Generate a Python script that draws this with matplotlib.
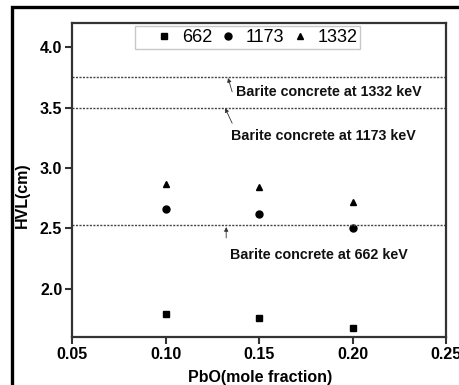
import matplotlib
matplotlib.use('Agg')
import matplotlib.pyplot as plt
from matplotlib.patches import Rectangle

# PbO mole fraction and half value layer (cm) per photon energy
pbo = [0.10, 0.15, 0.20]
hvl_662 = [1.79, 1.76, 1.67]
hvl_1173 = [2.66, 2.62, 2.50]
hvl_1332 = [2.87, 2.84, 2.72]

# Barite concrete reference HVLs
barite_energies = ['662', '1173', '1332']
barite_hvl = [2.53, 3.50, 3.75]

plt.rcParams['font.family'] = ['Liberation Sans', 'DejaVu Sans']

fig = plt.figure(figsize=(4.59, 3.85), dpi=100)
ax = fig.add_axes([0.157, 0.125, 0.815, 0.815])

ax.plot(pbo, hvl_662, 's', color='black', markersize=4.5, label='662')
ax.plot(pbo, hvl_1173, 'o', color='black', markersize=5, label='1173')
ax.plot(pbo, hvl_1332, '^', color='black', markersize=5, label='1332')

for val in barite_hvl:
    ax.axhline(val, color='#444444', lw=1.0, ls=(0, (1.5, 1)))

# labels and small arrows pointing to the reference lines
text_pos = {'1332': (0.1377, 3.63), '1173': (0.135, 3.265), '662': (0.1345, 2.28)}
arrow_head = {'1332': (0.1334, 3.745), '1173': (0.1318, 3.496), '662': (0.1324, 2.51)}
arrow_tail = {'1332': (0.1356, 3.63), '1173': (0.1356, 3.37), '662': (0.1324, 2.42)}
for e in barite_energies:
    tx, ty = text_pos[e]
    ax.text(tx, ty, f'Barite concrete at {e} keV', fontsize=10.3,
            fontweight='bold', va='center', ha='left', color='#111111')
    ax.annotate('', xy=arrow_head[e], xytext=arrow_tail[e],
                arrowprops=dict(arrowstyle='-|>', lw=0.6, color='#333333',
                                mutation_scale=6, shrinkA=0, shrinkB=0))

ax.set_xlim(0.05, 0.25)
ax.set_ylim(1.6, 4.2)
ax.set_xticks([0.05, 0.10, 0.15, 0.20, 0.25])
ax.set_xticklabels(['0.05', '0.10', '0.15', '0.20', '0.25'])
ax.set_yticks([2.0, 2.5, 3.0, 3.5, 4.0])
ax.set_yticklabels(['2.0', '2.5', '3.0', '3.5', '4.0'])
ax.tick_params(direction='out', length=5, width=1.5, color='#333333',
               labelsize=11.5, pad=2)
for lab in ax.get_xticklabels() + ax.get_yticklabels():
    lab.set_fontweight('bold')
for sp in ax.spines.values():
    sp.set_linewidth(1.6)
    sp.set_color('#333333')

ax.set_xlabel('PbO(mole fraction)', fontsize=11.5, fontweight='bold')
ax.set_ylabel('HVL(cm)', fontsize=11.5, fontweight='bold')
ax.xaxis.set_label_coords(0.503, -0.105)
ax.yaxis.set_label_coords(-0.113, 0.452)

leg = ax.legend(ncol=3, loc='upper center', bbox_to_anchor=(0.47, 0.99),
                fontsize=13, frameon=True, fancybox=False, handletextpad=-0.45,
                columnspacing=-0.61, borderpad=0.15, handlelength=2.9,
                borderaxespad=0)
leg.get_frame().set_edgecolor('#bbbbbb')
leg.get_frame().set_linewidth(1.0)

# outer black frame, cut off at right and bottom
fig.patches.append(Rectangle((11.5 / 459, -0.1), 1.2, 1.1 - 7.5 / 385,
                             transform=fig.transFigure, fill=False,
                             lw=2.4, edgecolor='black'))

fig.savefig('out.png', dpi=100)
